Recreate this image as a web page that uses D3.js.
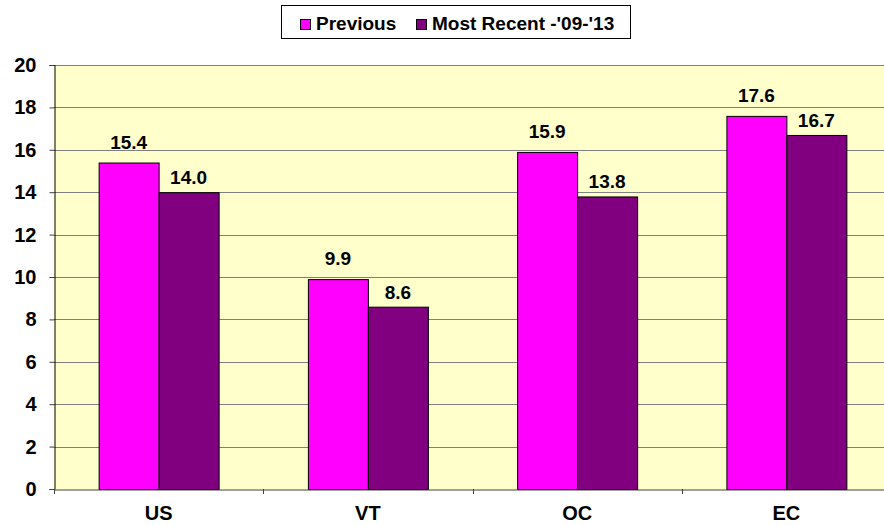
<!DOCTYPE html>
<html><head><meta charset="utf-8">
<script src="https://cdn.jsdelivr.net/npm/d3@7/dist/d3.min.js"></script>
<style>
html,body{margin:0;padding:0;background:#fff;}
svg{display:block;font-family:"Liberation Sans",Arial,sans-serif;font-weight:bold;}
</style></head>
<body>
<svg id="chart" width="884" height="525"></svg>
<script>
const categories = ["US", "VT", "OC", "EC"];
const seriesNames = ["Previous", "Most Recent -'09-'13"];
const previousValues = [15.4, 9.9, 15.9, 17.6];
const recentValues = [14.0, 8.6, 13.8, 16.7];
const yTicks = [0, 2, 4, 6, 8, 10, 12, 14, 16, 18, 20];
const colors = ["#FF00FF", "#800080"];

(function () {
const svg = d3.select("#chart");
const pL = 54, pR = 891, pT = 65, pB = 489;

const x0 = d3.scaleBand().domain(categories).range([pL, pR]).paddingInner(0.4266).paddingOuter(0.2133);
const x1 = d3.scaleBand().domain(seriesNames).range([0, x0.bandwidth()]);
const y = d3.scaleLinear().domain([0, 20]).range([pB, pT]);

// plot background
svg.append("rect").attr("x", pL).attr("y", pT).attr("width", pR - pL).attr("height", pB - pT).attr("fill", "#FFFFCC");

// gridlines
svg.append("g").selectAll("line").data(yTicks.filter(d => d > 0)).join("line")
  .attr("x1", pL).attr("x2", pR)
  .attr("y1", d => Math.round(y(d)) + 0.5).attr("y2", d => Math.round(y(d)) + 0.5)
  .attr("stroke", "#808080").attr("stroke-width", 1);

// y axis
const yAxis = d3.axisLeft(y).tickValues(yTicks).tickSize(5).tickPadding(13).tickFormat(d3.format("d"));
const gy = svg.append("g").attr("transform", `translate(${pL + 0.5},0)`).call(yAxis);
gy.select(".domain").attr("stroke", "#000");
gy.selectAll(".tick line").attr("stroke", "#404040");
gy.selectAll(".tick text").attr("font-size", 20).attr("font-family", "Liberation Sans, Arial, sans-serif").attr("font-weight", "bold").attr("fill", "#000");

// bars
const data = categories.map((c, i) => ({cat: c, vals: [previousValues[i], recentValues[i]]}));
const labelOffsets = [14, 8];
const groups = svg.append("g").selectAll("g").data(data).join("g")
  .attr("transform", d => `translate(${x0(d.cat)},0)`);
groups.selectAll("rect").data(d => d.vals.map((v, j) => ({v, j}))).join("rect")
  .attr("x", d => x1(seriesNames[d.j]) + 0.5)
  .attr("y", d => y(d.v) + 0.5)
  .attr("width", x1.bandwidth())
  .attr("height", d => pB - y(d.v))
  .attr("fill", d => colors[d.j])
  .attr("stroke", "#000").attr("stroke-width", 1);
groups.selectAll("text").data(d => d.vals.map((v, j) => ({v, j}))).join("text")
  .attr("x", d => x1(seriesNames[d.j]) + x1.bandwidth() / 2)
  .attr("y", d => y(d.v) - labelOffsets[d.j])
  .attr("text-anchor", "middle").attr("font-size", 19).attr("fill", "#000")
  .text(d => d3.format(".1f")(d.v));

// x axis
const xAxis = d3.axisBottom(x0).tickSize(0).tickPadding(16);
const gx = svg.append("g").attr("transform", `translate(0,${pB + 0.5})`).call(xAxis);
gx.select(".domain").attr("stroke", "#404040");
gx.selectAll(".tick text").attr("font-size", 20).attr("font-family", "Liberation Sans, Arial, sans-serif").attr("font-weight", "bold").attr("fill", "#000");
// category separator ticks
const seps = categories.map(c => x0(c) - x0.step() * x0.paddingOuter()).concat([pR]);
svg.append("g").selectAll("line").data(seps).join("line")
  .attr("x1", d => Math.round(d) + 0.5).attr("x2", d => Math.round(d) + 0.5)
  .attr("y1", pB).attr("y2", pB + 5).attr("stroke", "#404040");

// legend
const lg = svg.append("g");
lg.append("rect").attr("x", 281.5).attr("y", 5.5).attr("width", 349).attr("height", 33)
  .attr("fill", "#fff").attr("stroke", "#000");
const legendX = [300, 416];
seriesNames.forEach((s, i) => {
  lg.append("rect").attr("x", legendX[i] + 0.5).attr("y", 19.5).attr("width", 10).attr("height", 10)
    .attr("fill", colors[i]).attr("stroke", "#000");
  lg.append("text").attr("x", legendX[i] + 16).attr("y", 29.5).attr("font-size", 19).attr("fill", "#000").text(s);
});
})();
</script>
</body></html>
